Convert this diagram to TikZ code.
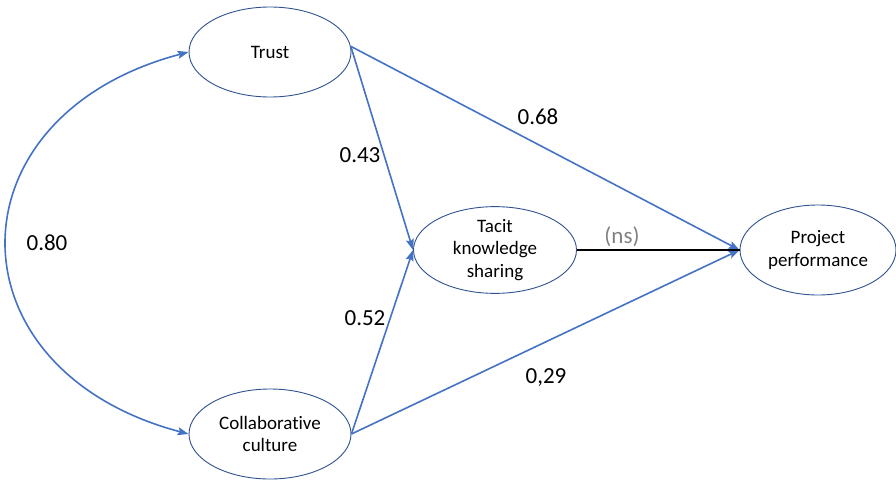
\documentclass[tikz,border=0pt]{standalone}
\usepackage{fontspec}
\setmainfont{Carlito}[Ligatures=NoCommon]
\usetikzlibrary{shapes.geometric,arrows.meta}
\definecolor{linkblue}{RGB}{68,114,196}
\definecolor{rimblue}{RGB}{47,82,143}
\definecolor{nsgrey}{RGB}{128,128,128}
\begin{document}
\begin{tikzpicture}[x=1pt,y=-1pt,
    latent/.style={ellipse,draw=rimblue,line width=0.9pt,inner sep=0pt,
        minimum width=162pt,minimum height=90pt,align=center,
        font=\fontsize{19}{22.5}\selectfont},
    path/.style={draw=linkblue,line width=1.6pt,
        -{Stealth[length=11pt,width=8pt,inset=2pt]}},
    coef/.style={font=\fontsize{23}{26}\selectfont}]
            \useasboundingbox (0,0) rectangle (896,479);
            \node[latent] (trust) at (270,52) {Trust};
            \node[latent] (collab) at (270,434) {Collaborative\\culture};
            \node[latent,minimum width=163pt,minimum height=84pt] (tacit) at (495,250) {Tacit\\knowledge\\sharing};
            \node[latent,minimum width=156pt] (perf) at (818,250) {Project\\performance};
            % correlation between the two drivers
            \draw[path,{Stealth[length=11pt,width=8pt,inset=2pt]}-{Stealth[length=11pt,width=8pt,inset=2pt]}]
                (trust.west) .. controls +(-242,64) and +(-242,-64) .. (collab.west);
            \draw[path] (trust.4) -- (tacit.west);
            \draw[path] (trust.4) -- (perf.west);
            \draw[path] (collab.east) -- (tacit.west);
            \draw[path] (collab.east) -- (perf.west);
            \draw[line width=1.6pt] (tacit.east) -- (perf.west);
            \node[coef] (r80) at (47,243) {0.80};
            \node[coef] (b43) at (360,155) {0.43};
            \node[coef] (b68) at (538,117) {0.68};
            \node[coef] (b52) at (365,318) {0.52};
            \node[coef] (b29) at (546,378) {0,29};
            \node[coef,text=nsgrey] (ns) at (622,237) {(ns)};
        \end{tikzpicture}
\end{document}
